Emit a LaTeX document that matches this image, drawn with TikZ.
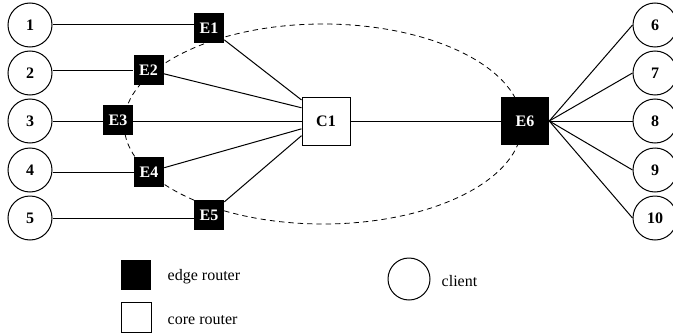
\documentclass[tikz,border=0pt]{standalone}
\usepackage{fontspec}
\setmainfont{Liberation Serif}
\usetikzlibrary{calc,backgrounds}
\begin{document}
\begin{tikzpicture}[x=0.75pt,y=-0.75pt,
  every node/.style={font=\fontsize{12}{14}\selectfont},
  client/.style={circle,draw,line width=0.75pt,minimum size=33pt,inner sep=0pt,font=\fontsize{12}{14}\selectfont\bfseries},
  edgebox/.style={rectangle,fill=black,text=white,minimum size=22.5pt,inner sep=0pt,font=\fontsize{12}{14}\selectfont\bfseries},
  bigedge/.style={edgebox,minimum size=36pt},
  corebox/.style={rectangle,draw,fill=white,line width=0.75pt,minimum size=36pt,inner sep=0pt,font=\fontsize{12}{14}\selectfont\bfseries},
  link/.style={line width=0.75pt},
  arealine/.style={line width=0.6pt,dash pattern=on 4pt off 3pt}]
\useasboundingbox (0,0) rectangle (673,335);
% clients
\node[client] (n1) at (30,25) {1};
\node[client] (n2) at (30,73) {2};
\node[client] (n3) at (30,121) {3};
\node[client] (n4) at (30,170) {4};
\node[client] (n5) at (30,218) {5};
\node[client] (n6) at (655,25) {6};
\node[client] (n7) at (655,73) {7};
\node[client] (n8) at (655,121) {8};
\node[client] (n9) at (655,170) {9};
\node[client] (n10) at (655,218) {10};
% routers
\node[edgebox] (e1) at (209,28) {E1};
\node[edgebox] (e2) at (148.5,70) {E2};
\node[edgebox] (e3) at (118,120) {E3};
\node[edgebox] (e4) at (149,172) {E4};
\node[edgebox] (e5) at (209,215) {E5};
\node[corebox] (c1) at (326,121) {C1};
\node[bigedge] (e6) at (525,121) {E6};
\begin{scope}[on background layer]
\draw[arealine] (323,124) ellipse [x radius=199, y radius=100];
\draw[link] (n1.east) -- (e1.west |- n1.east);
\draw[link] (n2.east |- e2.west) -- (e2.west);
\draw[link] (n3.east) -- (e3.west |- n3.east);
\draw[link] (n4.east |- e4.west) -- (e4.west);
\draw[link] (n5.east) -- (e5.west |- n5.east);
\draw[link] (e1) -- ($(c1.north west)!0.07!(c1.south west)$);
\draw[link] (e2) -- ($(c1.north west)!0.23!(c1.south west)$);
\draw[link] (e3.east |- c1.west) -- (c1.west);
\draw[link] (e4) -- ($(c1.north west)!0.66!(c1.south west)$);
\draw[link] (e5) -- ($(c1.north west)!0.8!(c1.south west)$);
\draw[link] (c1.east) -- (e6.west);
\foreach \k in {6,7,8,9,10} \draw[link] (e6.east) -- (n\k.west);
\end{scope}
% legend
\node[edgebox,minimum size=23pt] (le) at (136,275) {};
\node[anchor=west] (lt1) at (163,277) {edge router};
\node[corebox,minimum size=22.5pt,line width=0.6pt] (lc) at (136,317) {};
\node[anchor=west] (lt2) at (163,320) {core router};
\node[client,minimum size=31.5pt] (lcl) at (409,279) {};
\node[anchor=west] (lt3) at (437,281) {client};
\end{tikzpicture}
\end{document}
